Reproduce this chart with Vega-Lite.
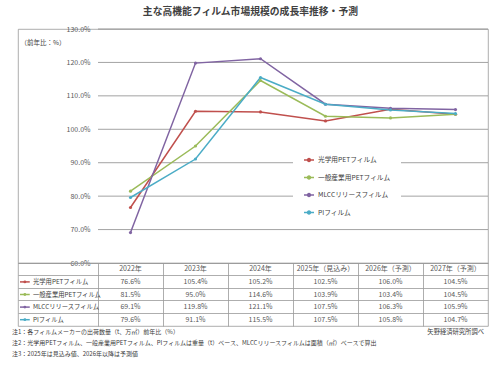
{
  "$schema": "https://vega.github.io/schema/vega-lite/v6.json",
  "padding": {"left": 12, "top": 6, "right": 5, "bottom": 4},
  "background": "white",
  "title": {"text": "主な高機能フィルム市場規模の成長率推移・予測", "fontSize": 9.8, "fontWeight": "bold", "color": "#404040", "anchor": "middle", "offset": 8, "font": "Noto Sans CJK JP"},
  "config": {
    "font": "Noto Sans CJK JP",
    "view": {"stroke": "#999999", "strokeWidth": 0.8}
  },
  "datasets": {
    "main": [
      {"series": "光学用PETフィルム", "year": 2022, "value": 76.6},
      {"series": "光学用PETフィルム", "year": 2023, "value": 105.4},
      {"series": "光学用PETフィルム", "year": 2024, "value": 105.2},
      {"series": "光学用PETフィルム", "year": 2025, "value": 102.5},
      {"series": "光学用PETフィルム", "year": 2026, "value": 106.0},
      {"series": "光学用PETフィルム", "year": 2027, "value": 104.5},
      {"series": "一般産業用PETフィルム", "year": 2022, "value": 81.5},
      {"series": "一般産業用PETフィルム", "year": 2023, "value": 95.0},
      {"series": "一般産業用PETフィルム", "year": 2024, "value": 114.6},
      {"series": "一般産業用PETフィルム", "year": 2025, "value": 103.9},
      {"series": "一般産業用PETフィルム", "year": 2026, "value": 103.4},
      {"series": "一般産業用PETフィルム", "year": 2027, "value": 104.5},
      {"series": "MLCCリリースフィルム", "year": 2022, "value": 69.1},
      {"series": "MLCCリリースフィルム", "year": 2023, "value": 119.8},
      {"series": "MLCCリリースフィルム", "year": 2024, "value": 121.1},
      {"series": "MLCCリリースフィルム", "year": 2025, "value": 107.5},
      {"series": "MLCCリリースフィルム", "year": 2026, "value": 106.3},
      {"series": "MLCCリリースフィルム", "year": 2027, "value": 105.9},
      {"series": "PIフィルム", "year": 2022, "value": 79.6},
      {"series": "PIフィルム", "year": 2023, "value": 91.1},
      {"series": "PIフィルム", "year": 2024, "value": 115.5},
      {"series": "PIフィルム", "year": 2025, "value": 107.5},
      {"series": "PIフィルム", "year": 2026, "value": 105.8},
      {"series": "PIフィルム", "year": 2027, "value": 104.7}
    ],
    "header": [
      {"series": " ", "year": 2022, "label": "2022年"},
      {"series": " ", "year": 2023, "label": "2023年"},
      {"series": " ", "year": 2024, "label": "2024年"},
      {"series": " ", "year": 2025, "label": "2025年（見込み）"},
      {"series": " ", "year": 2026, "label": "2026年（予測）"},
      {"series": " ", "year": 2027, "label": "2027年（予測）"}
    ],
    "notes": [
      {"line": 1, "text": "注1：各フィルムメーカーの出荷数量（t、万㎡）前年比（%）"},
      {"line": 2, "text": "注2：光学用PETフィルム、一般産業用PETフィルム、PIフィルムは重量（t）ベース、MLCCリリースフィルムは面積（㎡）ベースで算出"},
      {"line": 3, "text": "注3：2025年は見込み値、2026年以降は予測値"}
    ],
    "source": [{"line": 1, "text": "矢野経済研究所調べ"}],
    "grid": [{"v": 70}, {"v": 80}, {"v": 90}, {"v": 100}, {"v": 110}, {"v": 120}, {"v": 130}]
  },
  "bounds": "flush",
  "spacing": 0,
  "resolve": {"scale": {"x": "independent", "y": "independent", "color": "independent"}, "legend": {"color": "independent"}},
  "vconcat": [
    {
      "width": 470,
      "height": 234,
      "data": {"name": "main"},
      "resolve": {"axis": {"x": "independent", "y": "independent"}},
      "layer": [
        {
          "data": {"name": "grid"},
          "mark": {"type": "rule", "color": "#8c8c8c", "strokeWidth": 0.8},
          "encoding": {
            "y": {"field": "v", "type": "quantitative", "axis": null},
            "x": {"datum": 2021.5, "type": "quantitative", "axis": null},
            "x2": {"datum": 2027.5}
          }
        },
        {
          "mark": {"type": "line", "strokeWidth": 1.5},
          "encoding": {
            "x": {"field": "year", "type": "quantitative", "scale": {"domain": [2020.2692, 2027.5], "nice": false, "zero": false}, "axis": null},
            "y": {"field": "value", "type": "quantitative", "scale": {"domain": [60, 130], "nice": false, "zero": false},
              "axis": {"orient": "left", "values": [60, 70, 80, 90, 100, 110, 120, 130], "labelExpr": "format(datum.value, '.1f') + '%'", "offset": -80, "grid": false, "domain": false, "ticks": false, "labelPadding": 8, "labelFontSize": 7, "labelColor": "#595959",
                "title": "（前年比：%）", "titleAngle": 0, "titleX": -78, "titleY": 13, "titleAlign": "left", "titleBaseline": "middle", "titleFontSize": 6.5, "titleFontWeight": "normal", "titleColor": "#404040"}},
            "color": {"field": "series", "type": "nominal",
              "scale": {"domain": ["光学用PETフィルム", "一般産業用PETフィルム", "MLCCリリースフィルム", "PIフィルム"], "range": ["#c0504d", "#9bbb59", "#8064a2", "#4bacc6"]},
              "legend": {"orient": "none", "legendX": 275, "legendY": 115, "title": null, "fillColor": "white", "padding": 10, "symbolType": "M-1,0H1M-0.3,0A0.3,0.3,0,1,1,0.3,0A0.3,0.3,0,1,1,-0.3,0", "symbolSize": 100, "symbolStrokeWidth": 1.5, "labelFontSize": 6.7, "rowPadding": 6.5, "labelColor": "#404040", "labelOffset": 3}}
          }
        },
        {
          "mark": {"type": "point", "filled": true, "size": 10, "opacity": 1},
          "encoding": {
            "x": {"field": "year", "type": "quantitative", "axis": null},
            "y": {"field": "value", "type": "quantitative", "axis": null},
            "color": {"field": "series", "type": "nominal"}
          }
        }
      ]
    },
    {
      "width": 470,
      "height": 63,
      "data": {"name": "main"},
      "resolve": {"axis": {"x": "independent", "y": "independent"}},
      "layer": [
        {
          "transform": [{"calculate": "format(datum.value, '.1f') + '%'", "as": "txt"}],
          "mark": {"type": "text", "fontSize": 7, "color": "#595959"},
          "encoding": {
            "x": {"field": "year", "type": "quantitative", "scale": {"domain": [2020.2692, 2027.5], "nice": false, "zero": false},
              "axis": {"orient": "bottom", "values": [2021.5, 2022.5, 2023.5, 2024.5, 2025.5, 2026.5], "grid": true, "gridColor": "#999999", "gridWidth": 0.8, "labels": false, "ticks": false, "domain": false, "title": null}},
            "y": {"field": "series", "type": "nominal",
              "scale": {"domain": [" ", "光学用PETフィルム", "一般産業用PETフィルム", "MLCCリリースフィルム", "PIフィルム"], "paddingInner": 0, "paddingOuter": 0},
              "axis": {"orient": "left", "bandPosition": 0, "grid": true, "gridColor": "#999999", "gridWidth": 0.8, "labels": false, "ticks": false, "domain": false, "title": null}},
            "text": {"field": "txt"}
          }
        },
        {
          "data": {"name": "header"},
          "mark": {"type": "text", "fontSize": 7, "color": "#595959"},
          "encoding": {
            "x": {"field": "year", "type": "quantitative", "axis": null},
            "y": {"field": "series", "type": "nominal", "axis": null},
            "text": {"field": "label"}
          }
        },
        {
          "transform": [{"filter": "datum.year == 2022"}],
          "mark": {"type": "text", "fontSize": 6.3, "color": "#404040", "align": "left"},
          "encoding": {
            "x": {"datum": 2020.5, "type": "quantitative", "axis": null},
            "y": {"field": "series", "type": "nominal", "axis": null},
            "text": {"field": "series"}
          }
        },
        {
          "transform": [{"filter": "datum.year == 2022"}],
          "mark": {"type": "rule", "strokeWidth": 1.5},
          "encoding": {
            "x": {"datum": 2020.3, "type": "quantitative", "axis": null},
            "x2": {"datum": 2020.45},
            "y": {"field": "series", "type": "nominal", "axis": null},
            "color": {"field": "series", "type": "nominal", "scale": {"domain": ["光学用PETフィルム", "一般産業用PETフィルム", "MLCCリリースフィルム", "PIフィルム"], "range": ["#c0504d", "#9bbb59", "#8064a2", "#4bacc6"]}, "legend": null}
          }
        },
        {
          "transform": [{"filter": "datum.year == 2022"}],
          "mark": {"type": "point", "filled": true, "size": 8, "opacity": 1},
          "encoding": {
            "x": {"datum": 2020.375, "type": "quantitative", "axis": null},
            "y": {"field": "series", "type": "nominal", "axis": null},
            "color": {"field": "series", "type": "nominal", "legend": null}
          }
        }
      ]
    },
    {
      "width": 466,
      "height": 34,
      "view": {"stroke": null},
      "resolve": {"axis": {"x": "independent", "y": "independent"}},
      "layer": [
        {
          "data": {"name": "notes"},
          "mark": {"type": "text", "fontSize": 6, "color": "#404040", "align": "left", "dx": -6},
          "encoding": {
            "x": {"datum": 0, "type": "quantitative", "scale": {"domain": [0, 1], "nice": false, "zero": false}, "axis": null},
            "y": {"field": "line", "type": "ordinal", "scale": {"domain": [1, 2, 3], "paddingInner": 0, "paddingOuter": 0.39}, "axis": null},
            "text": {"field": "text"}
          }
        },
        {
          "data": {"name": "source"},
          "mark": {"type": "text", "fontSize": 6.3, "color": "#404040", "align": "right"},
          "encoding": {
            "x": {"datum": 1, "type": "quantitative", "axis": null},
            "y": {"field": "line", "type": "ordinal", "axis": null},
            "text": {"field": "text"}
          }
        }
      ]
    }
  ]
}
